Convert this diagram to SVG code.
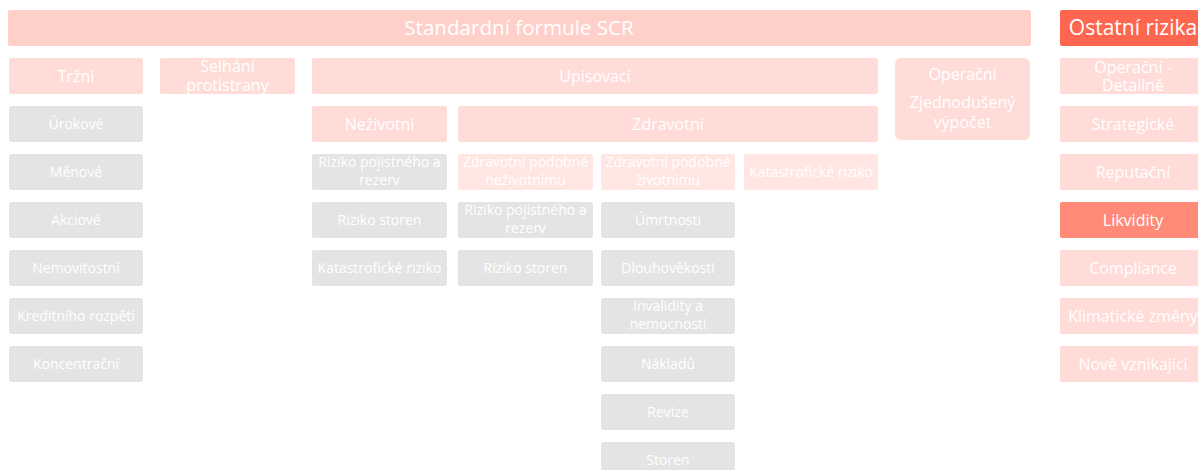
<svg xmlns="http://www.w3.org/2000/svg" width="1198" height="470" viewBox="0 0 1198 470">
<style>
text{font-family:"Open Sans","Noto Sans","DejaVu Sans",sans-serif;fill:#ffffff;text-anchor:middle}
.top{fill:#ffd0ca}
.l2{fill:#ffdcd8}
.l3{fill:#ffe6e2}
.g{fill:#e4e4e4}
.dark{fill:#ff6650}
.mid{fill:#ff8a78}
.t20{font-size:20.6px}
.t16{font-size:16px}
.t13{font-size:14px}
</style>
<defs>
<clipPath id="cSel"><rect x="160" y="58" width="135" height="36"/></clipPath>
</defs>
<rect width="1198" height="470" fill="#ffffff"/>

<g id="scr"><rect class="top" x="8" y="10" width="1023" height="36" rx="2"/><text class="t20" x="519" y="35">Standardní formule SCR</text></g>
<g id="ostatni"><rect class="dark" x="1060" y="10" width="146" height="36" rx="2"/><text class="t20" x="1133" y="35" style="font-size:21px">Ostatní rizika</text></g>

<g id="trzni"><rect class="l2" x="9" y="58" width="134" height="36" rx="2"/><text class="t16" x="76" y="81.5">Tržní</text></g>
<g id="selhani"><rect class="l2" x="160" y="58" width="135" height="36" rx="2"/><text class="t16" x="227.5" y="71.5" clip-path="url(#cSel)">Selhání<tspan x="227.5" y="90.5">protistrany</tspan></text></g>
<g id="upisovaci"><rect class="l2" x="312" y="58" width="566" height="36" rx="2"/><text class="t16" x="595" y="81.5">Upisovací</text></g>
<g id="operacni"><rect class="l2" x="895" y="58" width="135" height="82" rx="6"/><text class="t16" x="962.5" y="80">Operační</text><text class="t16" x="962.5" y="108">Zjednodušený</text><text class="t16" x="962.5" y="128">výpočet</text></g>

<g id="urokove"><rect class="g" x="9" y="106" width="134" height="36" rx="2"/><text class="t13" x="76" y="129">Úrokové</text></g>
<g id="menove"><rect class="g" x="9" y="154" width="134" height="36" rx="2"/><text class="t13" x="76" y="177">Měnové</text></g>
<g id="akciove"><rect class="g" x="9" y="202" width="134" height="36" rx="2"/><text class="t13" x="76" y="225">Akciové</text></g>
<g id="nemovitostni"><rect class="g" x="9" y="250" width="134" height="36" rx="2"/><text class="t13" x="76" y="273">Nemovitostní</text></g>
<g id="kreditniho"><rect class="g" x="9" y="298" width="134" height="36" rx="2"/><text class="t13" x="76" y="321">Kreditního rozpětí</text></g>
<g id="koncentracni"><rect class="g" x="9" y="346" width="134" height="36" rx="2"/><text class="t13" x="76" y="369">Koncentrační</text></g>

<g id="nezivotni"><rect class="l2" x="312" y="106" width="135" height="36" rx="2"/><text class="t16" x="379.5" y="129.5">Neživotní</text></g>
<g id="nz-pojistne"><rect class="g" x="312" y="154" width="135" height="36" rx="2"/><text class="t13" x="379.5" y="167">Riziko pojistného a<tspan x="379.5" y="185">rezerv</tspan></text></g>
<g id="nz-storen"><rect class="g" x="312" y="202" width="135" height="36" rx="2"/><text class="t13" x="379.5" y="225">Riziko storen</text></g>
<g id="nz-katastr"><rect class="g" x="312" y="250" width="135" height="36" rx="2"/><text class="t13" x="379.5" y="273">Katastrofické riziko</text></g>

<g id="zdravotni"><rect class="l2" x="458" y="106" width="420" height="36" rx="2"/><text class="t16" x="668" y="129.5">Zdravotní</text></g>
<g id="zd-nezivot"><rect class="l3" x="458" y="154" width="135" height="36" rx="2"/><text class="t13" x="525.5" y="167">Zdravotní podobné<tspan x="525.5" y="185">neživotnímu</tspan></text></g>
<g id="zd-zivot"><rect class="l3" x="601" y="154" width="134" height="36" rx="2"/><text class="t13" x="668" y="167">Zdravotní podobné<tspan x="668" y="185">životnímu</tspan></text></g>
<g id="zd-katastr"><rect class="l3" x="744" y="154" width="134" height="36" rx="2"/><text class="t13" x="811" y="177">Katastrofické riziko</text></g>

<g id="zn-pojistne"><rect class="g" x="458" y="202" width="135" height="36" rx="2"/><text class="t13" x="525.5" y="215">Riziko pojistného a<tspan x="525.5" y="233">rezerv</tspan></text></g>
<g id="zn-storen"><rect class="g" x="458" y="250" width="135" height="36" rx="2"/><text class="t13" x="525.5" y="273">Riziko storen</text></g>

<g id="umrtnosti"><rect class="g" x="601" y="202" width="134" height="36" rx="2"/><text class="t13" x="668" y="225">Úmrtnosti</text></g>
<g id="dlouhovekosti"><rect class="g" x="601" y="250" width="134" height="36" rx="2"/><text class="t13" x="668" y="273">Dlouhověkosti</text></g>
<g id="invalidity"><rect class="g" x="601" y="298" width="134" height="36" rx="2"/><text class="t13" x="668" y="311">Invalidity a<tspan x="668" y="329">nemocnosti</tspan></text></g>
<g id="nakladu"><rect class="g" x="601" y="346" width="134" height="36" rx="2"/><text class="t13" x="668" y="369">Nákladů</text></g>
<g id="revize"><rect class="g" x="601" y="394" width="134" height="36" rx="2"/><text class="t13" x="668" y="417">Revize</text></g>
<g id="storen"><rect class="g" x="601" y="442" width="134" height="36" rx="2"/><text class="t13" x="668" y="465">Storen</text></g>

<g id="op-detail"><rect class="l2" x="1060" y="58" width="146" height="36" rx="2"/><text class="t16" x="1133" y="73">Operační -<tspan x="1133" y="91">Detailně</tspan></text></g>
<g id="strategicke"><rect class="l2" x="1060" y="106" width="146" height="36" rx="2"/><text class="t16" x="1133" y="129.5">Strategické</text></g>
<g id="reputacni"><rect class="l2" x="1060" y="154" width="146" height="36" rx="2"/><text class="t16" x="1133" y="177.5">Reputační</text></g>
<g id="likvidity"><rect class="mid" x="1060" y="202" width="146" height="36" rx="2"/><text class="t16" x="1133" y="225.5">Likvidity</text></g>
<g id="compliance"><rect class="l2" x="1060" y="250" width="146" height="36" rx="2"/><text class="t16" x="1133" y="273.5">Compliance</text></g>
<g id="klimaticke"><rect class="l2" x="1060" y="298" width="146" height="36" rx="2"/><text class="t16" x="1133" y="321.5">Klimatické změny</text></g>
<g id="nove"><rect class="l2" x="1060" y="346" width="146" height="36" rx="2"/><text class="t16" x="1133" y="369.5">Nově vznikající</text></g>

<g id="connectors"></g>
</svg>
